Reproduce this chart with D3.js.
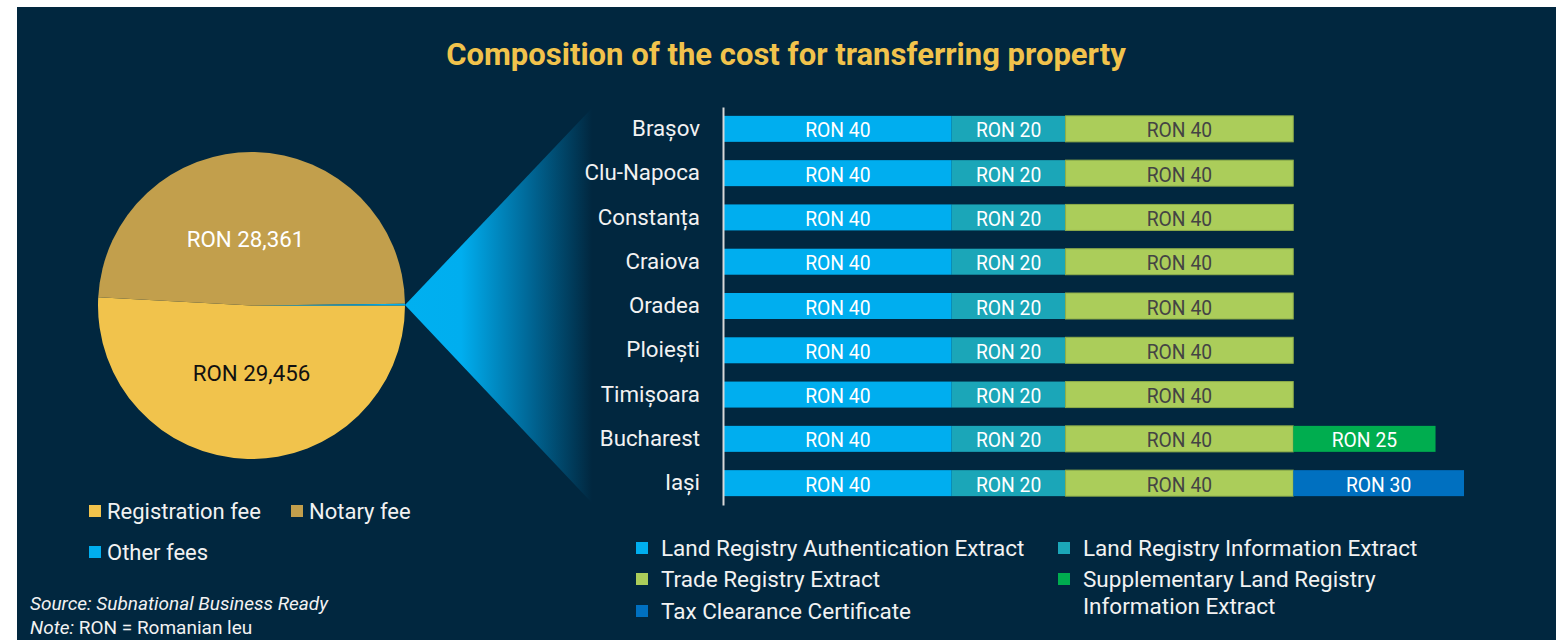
<!DOCTYPE html>
<html>
<head>
<meta charset="utf-8">
<script src="https://cdn.jsdelivr.net/npm/d3@7/dist/d3.min.js"></script>
<style>
  body { margin: 0; background: #fff; }
  svg text { font-family: Roboto, "Noto Sans", sans-serif; }
</style>
</head>
<body>
<svg width="1560" height="640"></svg>
<script>
// data
var pieLabels = ["Registration fee", "Notary fee", "Other fees"];
var pieValues = [29456, 28361, 106];
var pieColors = ["#f1c34c", "#c29f4c", "#00aeef"];

var cities = ["Brașov", "Clu-Napoca", "Constanța", "Craiova", "Oradea", "Ploiești", "Timișoara", "Bucharest", "Iași"];
var seriesNames = ["Land Registry Authentication Extract", "Land Registry Information Extract",
  "Trade Registry Extract", "Supplementary Land Registry Information Extract", "Tax Clearance Certificate"];
var authExtract  = [40, 40, 40, 40, 40, 40, 40, 40, 40];
var infoExtract  = [20, 20, 20, 20, 20, 20, 20, 20, 20];
var tradeExtract = [40, 40, 40, 40, 40, 40, 40, 40, 40];
var suppExtract  = [0, 0, 0, 0, 0, 0, 0, 25, 0];
var taxCert      = [0, 0, 0, 0, 0, 0, 0, 0, 30];
var barColors = ["#00aeef", "#1ba6b8", "#abcd5a", "#00ad4f", "#0070c0"];
var barText   = ["#ffffff", "#ffffff", "#444444", "#ffffff", "#ffffff"];

var bg = "#01273f";
var svg = d3.select("svg");

svg.append("rect").attr("x", 17).attr("y", 7).attr("width", 1539).attr("height", 633).attr("fill", bg);

// title
svg.append("text")
  .attr("x", 786).attr("y", 65)
  .attr("text-anchor", "middle")
  .attr("fill", "#f1c34c")
  .attr("font-size", 31).attr("font-weight", 700)
  .text("Composition of the cost for transferring property");

// wedge from the pie to the bars
var grad = svg.append("defs").append("linearGradient")
  .attr("id", "wedge").attr("gradientUnits", "userSpaceOnUse")
  .attr("x1", 405).attr("y1", 0).attr("x2", 592).attr("y2", 0);
grad.append("stop").attr("offset", 0).attr("stop-color", "#00b0f0");
grad.append("stop").attr("offset", 0.3).attr("stop-color", "#00aeef");
grad.append("stop").attr("offset", 0.65).attr("stop-color", "#006a9a");
grad.append("stop").attr("offset", 1).attr("stop-color", bg);
svg.append("path")
  .attr("d", "M405,305L592,108L592,503Z")
  .attr("fill", "url(#wedge)");

// pie
var cx = 251.5, cy = 305.5, r = 153.5;
var pie = d3.pie().sort(null)
  .startAngle(Math.PI / 2).endAngle(Math.PI / 2 + 2 * Math.PI);
var arcs = pie(pieValues);
var arc = d3.arc().innerRadius(0).outerRadius(r);
var gPie = svg.append("g").attr("transform", "translate(" + cx + "," + cy + ")");
gPie.selectAll("path").data(arcs).enter().append("path")
  .attr("d", arc)
  .attr("fill", function(d, i) { return pieColors[i]; });

var pieLabelPos = [[0, 67], [-6, -67]];
var pieLabelColor = ["#111", "#fff"];
gPie.selectAll("text.pl").data(arcs.slice(0, 2)).enter().append("text")
  .attr("class", "pl")
  .attr("x", function(d, i) { return pieLabelPos[i][0]; })
  .attr("y", function(d, i) { return pieLabelPos[i][1]; })
  .attr("text-anchor", "middle")
  .attr("dominant-baseline", "central")
  .attr("font-size", 22.3)
  .attr("fill", function(d, i) { return pieLabelColor[i]; })
  .text(function(d) { return "RON " + d3.format(",")(d.value); });

// pie legend
var pieLeg = [[89, 511], [291, 511], [89, 552]];
var gl = svg.append("g").selectAll("g").data(pieLabels).enter().append("g")
  .attr("transform", function(d, i) { return "translate(" + pieLeg[i][0] + "," + pieLeg[i][1] + ")"; });
gl.append("rect").attr("x", 0).attr("y", -6).attr("width", 12).attr("height", 12)
  .attr("fill", function(d, i) { return pieColors[i]; });
gl.append("text").attr("x", 18).attr("y", 0).attr("dominant-baseline", "central")
  .attr("font-size", 22).attr("fill", "#f2f2f2").text(function(d) { return d; });

// source
svg.append("text").attr("x", 30).attr("y", 610)
  .attr("font-size", 19).attr("font-style", "italic").attr("fill", "#f2f2f2")
  .text("Source: Subnational Business Ready");
var note = svg.append("text").attr("x", 30).attr("y", 634)
  .attr("font-size", 19).attr("fill", "#f2f2f2");
note.append("tspan").attr("font-style", "italic").text("Note:");
note.append("tspan").text(" RON = Romanian leu");

// bars
var y = d3.scaleBand().domain(cities).range([107, 505]).paddingInner(0.413).paddingOuter(0.2);
var x = d3.scaleLinear().domain([0, 130]).range([724, 1464]);

var series = [authExtract, infoExtract, tradeExtract, suppExtract, taxCert];
var rows = cities.map(function(c, i) {
  var o = { city: c };
  seriesNames.forEach(function(s, k) { o[s] = series[k][i]; });
  return o;
});
var stacked = d3.stack().keys(seriesNames)(rows);

var gBars = svg.append("g");
var layer = gBars.selectAll("g").data(stacked).enter().append("g");
var seg = layer.selectAll("g").data(function(d, k) {
    return d.filter(function(p) { return p[1] > p[0]; }).map(function(p) { return { p: p, k: k }; });
  }).enter().append("g");
seg.append("rect")
  .attr("x", function(d) { return x(d.p[0]); })
  .attr("y", function(d) { return y(d.p.data.city); })
  .attr("width", function(d) { return x(d.p[1]) - x(d.p[0]); })
  .attr("height", y.bandwidth())
  .attr("fill", function(d) { return barColors[d.k]; });
seg.filter(function(d) { return d.k === 2; }).append("rect")
  .attr("x", function(d) { return x(d.p[0]); })
  .attr("y", function(d) { return y(d.p.data.city); })
  .attr("width", function(d) { return x(d.p[1]) - x(d.p[0]); })
  .attr("height", y.bandwidth())
  .attr("fill", "none").attr("stroke", "#8fae4a").attr("stroke-width", 1);
seg.append("text")
  .attr("x", function(d) { return (x(d.p[0]) + x(d.p[1])) / 2; })
  .attr("y", function(d) { return y(d.p.data.city) + y.bandwidth() / 2 + 2; })
  .attr("text-anchor", "middle").attr("dominant-baseline", "central")
  .attr("font-size", 19.3)
  .attr("fill", function(d) { return barText[d.k]; })
  .text(function(d) { return "RON " + (d.p[1] - d.p[0]); });

// city axis
var ax = svg.append("g").attr("transform", "translate(723,0)")
  .call(d3.axisLeft(y).tickSize(0).tickSizeOuter(0).tickPadding(23));
ax.select(".domain").attr("stroke", "#d8d8d8").attr("stroke-width", 2);
ax.selectAll("text").attr("font-size", 22.3).attr("fill", "#f2f2f2")
  .attr("font-family", "Roboto, 'Noto Sans', sans-serif");

// bar legend
var barLeg = [[636, 548], [1058, 548], [636, 579], [1058, 579], [636, 611]];
var legLines = [["Land Registry Authentication Extract"], ["Land Registry Information Extract"],
  ["Trade Registry Extract"], ["Supplementary Land Registry", "Information Extract"], ["Tax Clearance Certificate"]];
var bl = svg.append("g").selectAll("g").data(seriesNames).enter().append("g")
  .attr("transform", function(d, i) { return "translate(" + barLeg[i][0] + "," + barLeg[i][1] + ")"; });
bl.append("rect").attr("x", 0).attr("y", -6).attr("width", 12).attr("height", 12)
  .attr("fill", function(d, i) { return barColors[i]; });
bl.append("text").attr("font-size", 22.5).attr("fill", "#f2f2f2")
  .each(function(d, i) {
    var t = d3.select(this);
    legLines[i].forEach(function(line, j) {
      t.append("tspan").attr("x", 25).attr("y", j * 27 + 8).text(line);
    });
  });
</script>
</body>
</html>
